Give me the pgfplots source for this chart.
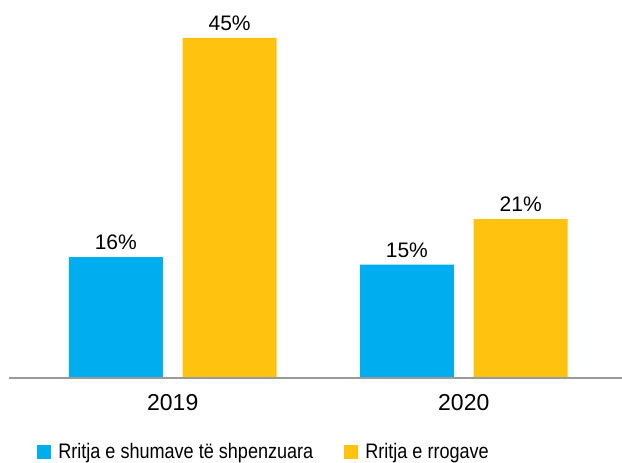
\documentclass[border=0pt]{standalone}
\usepackage{pgfplots}
\pgfplotsset{compat=1.18}
\usepackage{fontspec}
\setmainfont{Liberation Sans}
\newfontfamily\legendfont[FakeStretch=0.86]{Liberation Sans}

\definecolor{barblue}{HTML}{00AEEF}
\definecolor{baryellow}{HTML}{FFC20E}
\definecolor{axisgray}{HTML}{9A9A9A}

\begin{document}
\begin{tikzpicture}[x=1pt,y=1pt]
\path[use as bounding box] (0,0) rectangle (622,463);
\begin{axis}[
    at={(9pt,85pt)}, anchor=south west,
    scale only axis,
    width=613pt, height=378pt,
    xmin=-0.5626, xmax=1.5437,
    ymin=0, ymax=50,
    axis x line*=bottom,
    axis y line=none,
    x axis line style={-, draw=axisgray, line width=1.6pt},
    axis on top,
    xtick={0,1},
    xticklabels={2019,2020},
    major tick length=0pt,
    xticklabel style={font=\fontsize{23}{27}\selectfont, anchor=base, inner sep=0pt, yshift=-33pt},
    ytick=\empty,
    /pgf/number format/assume math mode=true,
    ybar,
    bar width=0.3225,
    nodes near coords={\pgfmathprintnumber{\pgfplotspointmeta}\%},
    every node near coord/.append style={font=\fontsize{21}{25}\selectfont, anchor=base, inner sep=0pt, yshift=7.5pt, text=black},
    legend columns=2,
    legend style={
        draw=none, fill=none, inner sep=0pt, outer sep=0pt,
        at={(axis description cs:0.0462,-0.196)}, anchor=west,
        font=\fontsize{21}{25}\legendfont,
        nodes={inner sep=0pt, anchor=base west},
        /tikz/every even column/.append style={column sep=31pt},
    },
    legend image code/.code={
        \fill[#1] (0pt,0pt) rectangle (14pt,14pt);
        \path (21pt,0pt);
    },
]
\addplot[draw=none, fill=barblue, bar shift=-0.1955] coordinates {(0,16) (1,15)};
\addlegendentry{Rritja e shumave të shpenzuara}
\addplot[draw=none, fill=baryellow, bar shift=0.1955] coordinates {(0,45) (1,21)};
\addlegendentry{Rritja e rrogave}
\end{axis}
\end{tikzpicture}
\end{document}
